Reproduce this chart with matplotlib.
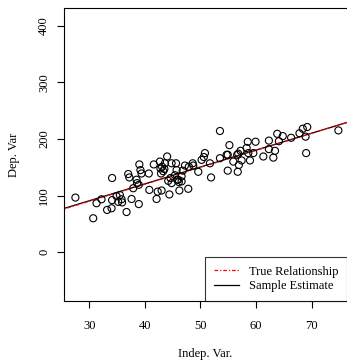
import matplotlib.pyplot as plt
import numpy as np

plt.rcParams['font.family'] = ['Liberation Serif', 'DejaVu Serif']

# data
indep = [27.5, 30.7, 31.3, 32.2, 33.2, 34.0, 34.1, 34.1, 34.9, 35.2,
         35.5, 35.8, 35.9, 36.7, 37.0, 37.2, 37.6, 37.9, 38.5, 38.6,
         38.9, 38.9, 39.0, 39.2, 39.4, 40.7, 40.8, 41.6, 42.1, 42.3,
         42.7, 42.8, 42.9, 43.0, 43.1, 43.3, 43.6, 44.0, 44.2, 44.4,
         44.6, 44.8, 44.8, 45.4, 45.6, 45.7, 45.8, 46.1, 46.2, 46.6,
         46.6, 46.8, 47.2, 47.8, 47.9, 48.6, 48.7, 49.6, 50.2, 50.6,
         50.8, 51.7, 51.9, 53.5, 53.5, 54.7, 54.9, 54.9, 55.2, 55.9,
         56.6, 56.7, 56.8, 56.9, 57.2, 57.4, 58.3, 58.5, 58.6, 58.9,
         59.5, 59.9, 61.3, 62.3, 62.3, 63.1, 63.4, 63.8, 64.1, 64.8,
         66.3, 67.8, 68.4, 68.9, 69.0, 69.2, 74.8, 46.0, 43.5]
dep = [96.5, 60, 86.5, 93.5, 74.7, 77.6, 131, 92, 99, 89,
       101, 93.5, 88, 71, 138, 132, 94, 113, 128, 122,
       119, 85, 155, 145, 139, 139, 110, 155, 94, 107,
       160, 148, 139, 109, 151, 143, 157, 169, 126, 102,
       131, 157, 122, 136, 157, 145, 128, 124, 109, 125,
       134, 144, 153, 112, 151, 157, 153, 142, 163, 168,
       175, 157, 132, 214, 166, 172, 172, 144, 189, 160,
       172, 142, 174, 154, 179, 162, 184, 195, 175, 162,
       175, 195, 169, 182, 197, 167, 179, 209, 196, 205,
       202, 210, 218, 204, 175, 221, 215, 128, 147]

true_int, true_slope = 0.0, 3.0
est_int, est_slope = 1.5, 2.98

xticks = [30, 40, 50, 60, 70]
yticks = [0, 100, 200, 300, 400]

fig = plt.figure(figsize=(3.47, 3.61), dpi=100)
ax = fig.add_axes([64 / 347, 60 / 361, 1 - 64 / 347, 293 / 361])

ax.scatter(indep, dep, s=26, facecolors='none', edgecolors='black', linewidths=0.8, zorder=3)

xs = np.array([20, 80])
ax.plot(xs, est_int + est_slope * xs, color='black', lw=0.9, label='Sample Estimate')
ax.plot(xs, true_int + true_slope * xs, color='red', lw=0.9, linestyle=(0, (3, 1.5, 1, 1.5)),
        label='True Relationship')

ax.set_xlim(25.45, 76.35)
ax.set_ylim(-86, 431)
ax.set_xticks(xticks)
ax.set_yticks(yticks)
ax.set_yticklabels([str(t) for t in yticks], rotation=90, va='center')
ax.tick_params(direction='out', length=5, width=0.8, labelsize=9)
ax.tick_params(axis='x', pad=9)
ax.tick_params(axis='y', pad=5)
ax.spines['right'].set_visible(False)
for s in ['left', 'top', 'bottom']:
    ax.spines[s].set_linewidth(0.8)

ax.set_xlabel('Indep. Var.', fontsize=9, labelpad=11)
ax.set_ylabel('Dep. Var', fontsize=9, labelpad=13)

h, l = ax.get_legend_handles_labels()
leg = ax.legend(h[::-1], l[::-1], loc='lower right', fontsize=9, frameon=True, fancybox=False,
                borderaxespad=0, handlelength=2.0, borderpad=0.7, labelspacing=0.2,
                handletextpad=0.8)
leg.get_frame().set_edgecolor('black')
leg.get_frame().set_linewidth(0.8)

fig.savefig('out.png', dpi=100)
